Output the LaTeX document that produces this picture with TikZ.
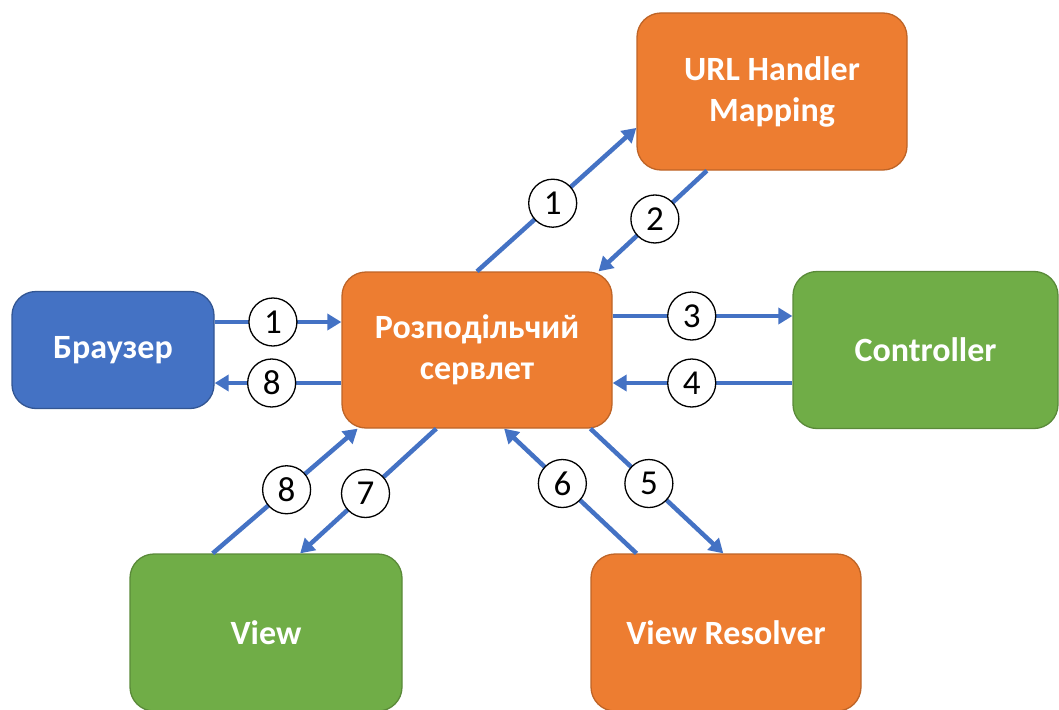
\documentclass[tikz,border=0pt]{standalone}
\usepackage{fontspec}
\setmainfont{Carlito}
\usepackage{xcolor}
\usetikzlibrary{arrows.meta, positioning, calc}

\definecolor{boxblue}{HTML}{4472C4}
\definecolor{boxorange}{HTML}{ED7D31}
\definecolor{boxgreen}{HTML}{70AD47}
\definecolor{arrowblue}{HTML}{4472C4}

\begin{document}
\begin{tikzpicture}[x=1pt, y=-1pt,
    box/.style={rounded corners=24pt, line width=1.3pt, minimum width=270pt, minimum height=157pt,
        inner sep=0pt, align=center, text=white, font=\bfseries\fontsize{34}{41}\selectfont},
    bluebox/.style={box, fill=boxblue, draw=boxblue!75!black},
    orangebox/.style={box, fill=boxorange, draw=boxorange!80!black},
    greenbox/.style={box, fill=boxgreen, draw=boxgreen!80!black},
    flow/.style={line width=4.5pt, draw=arrowblue, -{Triangle[length=14pt, width=16pt]}},
    num/.style={circle, draw=black, line width=1.3pt, fill=white, minimum size=48pt,
        inner sep=0pt, text=black, font=\fontsize{35}{35}\selectfont}]
    \useasboundingbox (0,0) rectangle (1059,709);
    \clip (0,0) rectangle (1059,709);

    \node[bluebox, minimum width=202pt, minimum height=117pt] (browser) at (113, 350) {Браузер};
    \node[orangebox, minimum height=156pt] (servlet) at (477, 350) {Розподільчий\\сервлет};
    \node[orangebox] (url) at (772, 91.5) {URL Handler\\Mapping};
    \node[greenbox, minimum width=265pt] (controller) at (925.5, 350) {Controller};
    \node[greenbox, minimum width=272pt] (view) at (266, 632.5) {View};
    \node[orangebox] (resolver) at (726, 632.5) {View Resolver};

    % браузер <-> сервлет
    \draw[flow] ($(browser.east)+(0,-28)$) -- node[num, pos=0.46] {1} ($(servlet.west)+(0,-28)$);
    \draw[flow] ($(servlet.west)+(0,33)$) -- node[num, pos=0.55] {8} ($(browser.east)+(0,33)$);

    % handler mapping
    \draw[flow] (servlet.north) -- node[num, pos=0.475] {1} ($(url.north west)!0.73!(url.south west)$);
    \draw[flow] ($(url.south west)!0.26!(url.south east)$) -- node[num, pos=0.48] {2} ($(servlet.north west)!0.948!(servlet.north east)$);

    % controller
    \draw[flow] ($(servlet.east)+(0,-34)$) -- node[num, pos=0.44] {3} ($(controller.west)+(0,-34)$);
    \draw[flow] ($(controller.west)+(0,33)$) -- node[num, pos=0.56] {4} ($(servlet.east)+(0,33)$);

    % view resolver
    \draw[flow] ($(servlet.south west)!0.918!(servlet.south east)$) -- node[num, pos=0.44] {5} ($(resolver.north west)!0.49!(resolver.north east)$);
    \draw[flow] ($(resolver.north west)!0.17!(resolver.north east)$) -- node[num, pos=0.56] {6} ($(servlet.south west)!0.6!(servlet.south east)$);

    % view
    \draw[flow] ($(servlet.south west)!0.35!(servlet.south east)$) -- node[num, pos=0.52] {7} ($(view.north west)!0.625!(view.north east)$);
    \draw[flow] ($(view.north west)!0.305!(view.north east)$) -- node[num, pos=0.51] {8} ($(servlet.south west)!0.06!(servlet.south east)$);
\end{tikzpicture}
\end{document}
